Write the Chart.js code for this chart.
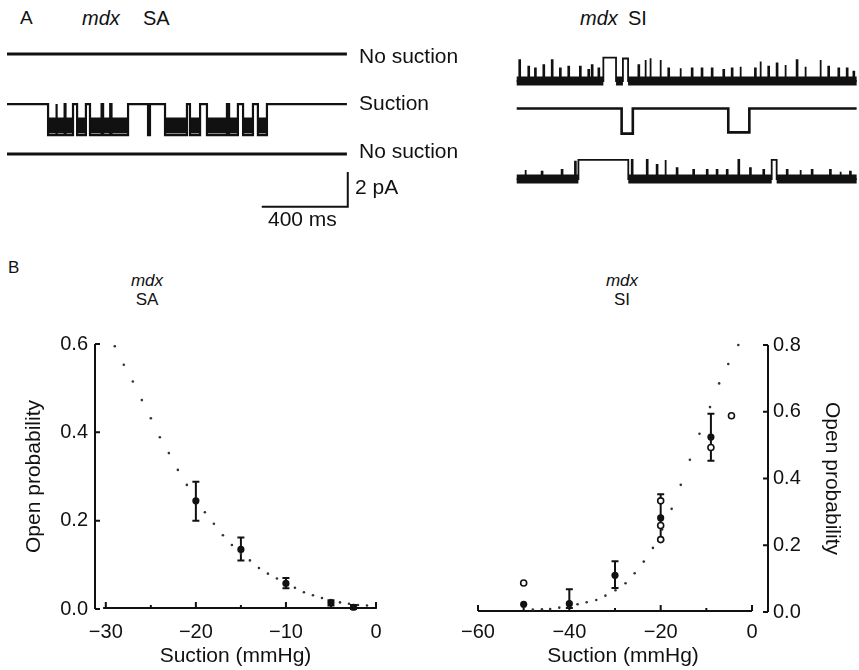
<!DOCTYPE html>
<html>
<head>
<meta charset="utf-8">
<script src="https://cdn.jsdelivr.net/npm/chart.js@4.4.0/dist/chart.umd.min.js"></script>
<style>
  body { margin: 0; background: #fff; }
  #fig { position: relative; width: 859px; height: 670px; overflow: hidden; font-family: "Liberation Sans", Arial, sans-serif; color: #111; }
  #fig canvas { position: absolute; }
  .t { position: absolute; line-height: 1; white-space: nowrap; }
  .c { transform: translateX(-50%); }
  .i { font-style: italic; }
</style>
</head>
<body>
<div id="fig">
  <canvas id="saTraces" width="460" height="200" style="left:0;top:30px"></canvas>
  <canvas id="siTraces" width="359" height="160" style="left:500px;top:40px"></canvas>
  <canvas id="saCurve" width="420" height="350" style="left:0;top:320px"></canvas>
  <canvas id="siCurve" width="419" height="350" style="left:440px;top:320px"></canvas>

  <div class="t" style="left:20px;top:8px;font-size:19px">A</div>
  <div class="t i" style="left:82px;top:8px;font-size:20px">mdx</div>
  <div class="t" style="left:143px;top:8px;font-size:20px">SA</div>
  <div class="t i" style="left:580px;top:8px;font-size:20px">mdx</div>
  <div class="t" style="left:628px;top:8px;font-size:20px">SI</div>

  <div class="t" style="left:359px;top:45px;font-size:21px">No suction</div>
  <div class="t" style="left:359px;top:92px;font-size:21px">Suction</div>
  <div class="t" style="left:359px;top:140px;font-size:21px">No suction</div>
  <div class="t" style="left:355px;top:176px;font-size:21px">2 pA</div>
  <div class="t" style="left:268px;top:208px;font-size:21px">400 ms</div>

  <div class="t" style="left:8px;top:259px;font-size:17px">B</div>
  <div class="t i c" style="left:147px;top:272px;font-size:17px">mdx</div>
  <div class="t c" style="left:147px;top:291px;font-size:17px">SA</div>
  <div class="t i c" style="left:622px;top:272px;font-size:17px">mdx</div>
  <div class="t c" style="left:622px;top:291px;font-size:17px">SI</div>
</div>

<script>
// ---- single-channel records (time in ms, current in pA) ----
const traceLength = 1581;

// SA patch: open intervals during suction
const saOpenings = [[191, 228], [232, 268], [272, 307], [326, 367], [386, 440], [447, 480], [486, 563],
  [656, 665], [735, 837], [851, 898], [930, 1023], [1033, 1074], [1098, 1144], [1167, 1209]];
const saUnitAmp = -1.8;
const saFlickerLevel = -1.24;

// SI patch: long openings [start, end, amplitude] and brief spikes [time, amplitude]
const siTopEvents = [[403, 462, 1.35], [494, 518, 1.3]];
const siTopSpikes = [[12, 1.21], [54, 0.83], [85, 0.73], [124, 0.92], [163, 1.21], [201, 0.73], [240, 0.83],
  [294, 0.83], [333, 0.64], [349, 0.92], [380, 0.73], [566, 0.92], [597, 1.21], [620, 1.31], [667, 1.21],
  [705, 0.73], [760, 0.73], [814, 0.73], [860, 0.73], [907, 0.73], [961, 0.64], [1000, 0.73], [1039, 0.83],
  [1108, 0.73], [1132, 1.12], [1170, 0.83], [1209, 1.02], [1248, 0.92], [1302, 1.21], [1341, 0.83],
  [1411, 1.21], [1449, 0.83], [1496, 0.73], [1535, 0.73], [1566, 0.54]];
const siMidEvents = [[488, 540, -1.45], [984, 1082, -1.38]];
const siLowEvents = [[287, 519, 1.1], [1186, 1209, 1.1]];
const siLowSpikes = [[39, 0.52], [116, 0.42], [209, 0.52], [271, 1.0], [535, 1.1], [605, 1.1], [651, 0.81],
  [690, 1.1], [744, 0.62], [821, 0.52], [884, 0.52], [930, 0.52], [977, 0.52], [1031, 1.1], [1085, 0.62],
  [1147, 0.52], [1256, 0.52], [1318, 0.52], [1372, 0.52], [1457, 0.52], [1504, 0.42], [1550, 0.42]];

const scaleBarMs = 400;
const scaleBarPA = 2;

// ---- open probability vs suction ----
const saSuction = [-20, -15, -10, -5, -2.5];
const saPo = [0.245, 0.135, 0.058, 0.014, 0.004];
const saPoLow = [0.200, 0.110, 0.047, 0.008, 0.000];
const saPoHigh = [0.288, 0.162, 0.070, 0.020, 0.009];
const saFitSuction = [-29, -28, -27, -26, -25, -24, -23, -22, -21, -20, -19, -18, -17, -16, -15,
  -14, -13, -12, -11, -10, -9, -8, -7, -6, -5, -4, -3, -2, -1];
const saFitPo = [0.595, 0.553, 0.515, 0.473, 0.432, 0.389, 0.353, 0.315, 0.281, 0.250, 0.219, 0.193,
  0.167, 0.145, 0.125, 0.110, 0.093, 0.080, 0.069, 0.058, 0.048, 0.038, 0.031, 0.025, 0.020, 0.015,
  0.012, 0.009, 0.008];

const siSuction = [-50, -40, -30, -20, -9];
const siPo = [0.023, 0.025, 0.110, 0.282, 0.524];
const siPoLow = [null, 0.012, 0.072, 0.215, 0.453];
const siPoHigh = [null, 0.068, 0.152, 0.353, 0.594];
const siCellSuction = [-50, -20, -20, -20, -9, -4.5];
const siCellPo = [0.087, 0.333, 0.259, 0.217, 0.493, 0.588];
const siFitSuction = [-3.0, -5.2, -7.2, -9.2, -11.5, -13.6, -15.6, -17.6, -19.7, -21.7, -23.7, -25.7,
  -27.7, -29.9, -32.1, -34.1, -36.2, -38.2, -40.2, -42.2, -44.2, -46.0, -48.0];
const siFitPo = [0.800, 0.743, 0.685, 0.614, 0.534, 0.456, 0.381, 0.309, 0.247, 0.192, 0.151, 0.116,
  0.086, 0.065, 0.049, 0.036, 0.029, 0.023, 0.017, 0.013, 0.009, 0.008, 0.007];

Chart.defaults.font.family = '"Liberation Sans", Arial, sans-serif';
Chart.defaults.color = '#111';
Chart.defaults.animation = false;
Chart.defaults.plugins.legend.display = false;
Chart.defaults.plugins.tooltip.enabled = false;

const ink = '#111';

function line(points, width) {
  return {
    data: points, showLine: true, pointRadius: 0, borderColor: ink, borderWidth: width,
    clip: false, borderCapStyle: 'butt', borderJoinStyle: 'miter'
  };
}

// square steps from the closed level to each event level and back
function stepTrace(base, events) {
  const pts = [{x: 0, y: base}];
  events.slice().sort((a, b) => a[0] - b[0]).forEach(([s, e, a]) => {
    pts.push({x: s, y: base}, {x: s, y: base + a}, {x: e, y: base + a}, {x: e, y: base});
  });
  pts.push({x: traceLength, y: base});
  return pts;
}

const spikesToEvents = spikes => spikes.map(([t, a]) => [t, t + 4, a]);

// noisy closed-level band, interrupted by long openings
function closedBands(base, events, width) {
  const out = [];
  let prev = 0;
  events.forEach(([s, e]) => { out.push(line([{x: prev, y: base}, {x: s, y: base}], width)); prev = e; });
  out.push(line([{x: prev, y: base}, {x: traceLength, y: base}], width));
  return out;
}

function traceChart(id, datasets, xRange, yRange) {
  return new Chart(document.getElementById(id), {
    type: 'scatter',
    data: { datasets },
    options: {
      responsive: false,
      devicePixelRatio: 1,
      layout: { padding: 0 },
      scales: {
        x: { type: 'linear', display: false, min: xRange[0], max: xRange[1] },
        y: { type: 'linear', display: false, min: yRange[0], max: yRange[1] }
      }
    }
  });
}

// SA records
const saBase = [-0.06, -2.95, -5.84];
const flat = b => [{x: 0, y: b}, {x: traceLength, y: b}];
const saSets = [
  line(flat(saBase[0]), 3),
  line(stepTrace(saBase[1], saOpenings.map(([s, e]) => [s, e, saUnitAmp])), 2.2),
  line(flat(saBase[2]), 3)
];
saOpenings.filter(([s, e]) => e - s > 20).forEach(([s, e]) => {
  saSets.push(line([{x: s, y: saBase[1] + saFlickerLevel}, {x: e, y: saBase[1] + saFlickerLevel}], 16));
});
// calibration bar
const barEnd = 1585, barFoot = -8.88;
saSets.push(line([{x: barEnd - scaleBarMs, y: barFoot}, {x: barEnd, y: barFoot}, {x: barEnd, y: barFoot + scaleBarPA}], 2));
traceChart('saTraces', saSets, [-32.6, 2107], [-10.23, 1.33]);

// SI records
const siBase = [0, -1.59, -5.665];
const siSets = [
  ...closedBands(siBase[0], siTopEvents, 9),
  line(stepTrace(siBase[0], siTopEvents.concat(spikesToEvents(siTopSpikes))), 1.8),
  line(stepTrace(siBase[1], siMidEvents), 2.6),
  ...closedBands(siBase[2], siLowEvents, 9),
  line(stepTrace(siBase[2], siLowEvents.concat(spikesToEvents(siLowSpikes))), 1.8)
];
traceChart('siTraces', siSets, [-77.7, 1592], [-6.88, 2.37]);

// ---- dose-response panels ----
function axisFrame(cfg) {
  return {
    id: 'axisFrame',
    beforeDatasetsDraw(chart) {
      const {ctx, chartArea, scales: {x, y}} = chart;
      ctx.save();
      ctx.strokeStyle = ink;
      ctx.lineWidth = 2;
      ctx.beginPath();
      const yb = y.getPixelForValue(0) - 1;
      ctx.moveTo(x.getPixelForValue(cfg.xFrom), yb);
      ctx.lineTo(x.getPixelForValue(cfg.xTo), yb);
      cfg.xMajor.forEach(v => { const p = x.getPixelForValue(v); ctx.moveTo(p, yb); ctx.lineTo(p, yb - 6); });
      cfg.xMinor.forEach(v => { const p = x.getPixelForValue(v); ctx.moveTo(p, yb); ctx.lineTo(p, yb - 3); });
      const ax = cfg.side === 'left' ? chartArea.left : chartArea.right;
      const dir = cfg.side === 'left' ? 1 : -1;
      ctx.moveTo(ax, y.getPixelForValue(0));
      ctx.lineTo(ax, y.getPixelForValue(cfg.yTo));
      cfg.yMajor.forEach(v => { const p = y.getPixelForValue(v); ctx.moveTo(ax, p); ctx.lineTo(ax + dir * 5, p); });
      ctx.stroke();
      ctx.restore();
    }
  };
}

function errorBars(xs, lows, highs) {
  return {
    id: 'errorBars',
    beforeDatasetsDraw(chart) {
      const {ctx, scales: {x, y}} = chart;
      ctx.save();
      ctx.strokeStyle = ink;
      ctx.lineWidth = 2;
      ctx.beginPath();
      xs.forEach((v, i) => {
        if (lows[i] == null) return;
        const px = x.getPixelForValue(v);
        const lo = y.getPixelForValue(lows[i]);
        const hi = y.getPixelForValue(highs[i]);
        ctx.moveTo(px, lo); ctx.lineTo(px, hi);
        ctx.moveTo(px - 3.5, lo); ctx.lineTo(px + 3.5, lo);
        ctx.moveTo(px - 3.5, hi); ctx.lineTo(px + 3.5, hi);
      });
      ctx.stroke();
      ctx.restore();
    }
  };
}

const pts = (xs, ys) => xs.map((x, i) => ({x, y: ys[i]}));
const minusTick = v => (v < 0 ? '\u2212' + Math.abs(v) : String(v));
const tickFont = { size: 20 };
const titleFont = { size: 21 };

function fitDots(data) {
  return { data, pointRadius: 1.3, pointBackgroundColor: '#333', pointBorderWidth: 0, clip: false };
}
function meanDots(data) {
  return { data, pointRadius: 3.6, pointBackgroundColor: ink, pointBorderColor: ink, pointBorderWidth: 0, clip: false };
}

new Chart(document.getElementById('saCurve'), {
  type: 'scatter',
  data: {
    datasets: [
      meanDots(pts(saSuction, saPo)),
      fitDots(pts(saFitSuction, saFitPo))
    ]
  },
  options: {
    responsive: false,
    devicePixelRatio: 1,
    layout: { padding: { left: 0, right: 44, top: 24, bottom: 0 } },
    scales: {
      x: {
        type: 'linear', min: -31.2, max: 0,
        grid: { display: false, drawTicks: false }, border: { display: false },
        ticks: { stepSize: 10, includeBounds: false, padding: 11, font: tickFont, maxRotation: 0, autoSkip: false, callback: minusTick },
        title: { display: true, text: 'Suction (mmHg)', font: titleFont, padding: { top: 0, bottom: 1 } },
        afterFit: s => { s.height = 61; }
      },
      y: {
        type: 'linear', min: 0, max: 0.6,
        grid: { display: false, drawTicks: false }, border: { display: false },
        ticks: { stepSize: 0.2, padding: 7, font: tickFont, callback: v => v.toFixed(1) },
        title: { display: true, text: 'Open probability', font: titleFont, padding: { top: 22, bottom: 0 } },
        afterFit: s => { s.width = 95; }
      }
    }
  },
  plugins: [
    axisFrame({ side: 'left', xFrom: -30.3, xTo: 0.1, xMajor: [-30, -20, -10, 0], xMinor: [-25, -15, -5], yTo: 0.6, yMajor: [0, 0.2, 0.4, 0.6] }),
    errorBars(saSuction, saPoLow, saPoHigh)
  ]
});

new Chart(document.getElementById('siCurve'), {
  type: 'scatter',
  data: {
    datasets: [
      { data: pts(siCellSuction, siCellPo), pointRadius: 3, pointBackgroundColor: '#fff', pointBorderColor: ink, pointBorderWidth: 1.6, clip: false },
      meanDots(pts(siSuction, siPo)),
      fitDots(pts(siFitSuction, siFitPo))
    ]
  },
  options: {
    responsive: false,
    devicePixelRatio: 1,
    layout: { padding: { left: 38, right: 0, top: 25, bottom: 0 } },
    scales: {
      x: {
        type: 'linear', min: -60, max: 3.5,
        grid: { display: false, drawTicks: false }, border: { display: false },
        ticks: { stepSize: 20, includeBounds: false, padding: 8, font: tickFont, maxRotation: 0, autoSkip: false, callback: minusTick },
        title: { display: true, text: 'Suction (mmHg)', font: titleFont, padding: { top: 0, bottom: 1 } },
        afterFit: s => { s.height = 58; }
      },
      y: {
        type: 'linear', position: 'right', min: 0, max: 0.8,
        grid: { display: false, drawTicks: false }, border: { display: false },
        ticks: { stepSize: 0.2, padding: 5, font: tickFont, callback: v => v.toFixed(1) },
        title: { display: true, text: 'Open probability', font: titleFont, padding: { top: 15, bottom: 0 } },
        afterFit: s => { s.width = 91; }
      }
    }
  },
  plugins: [
    axisFrame({ side: 'right', xFrom: -60, xTo: 0, xMajor: [-60, -40, -20, 0], xMinor: [-50, -30, -10], yTo: 0.8, yMajor: [0, 0.2, 0.4, 0.6, 0.8] }),
    errorBars(siSuction, siPoLow, siPoHigh)
  ]
});
</script>
</body>
</html>
